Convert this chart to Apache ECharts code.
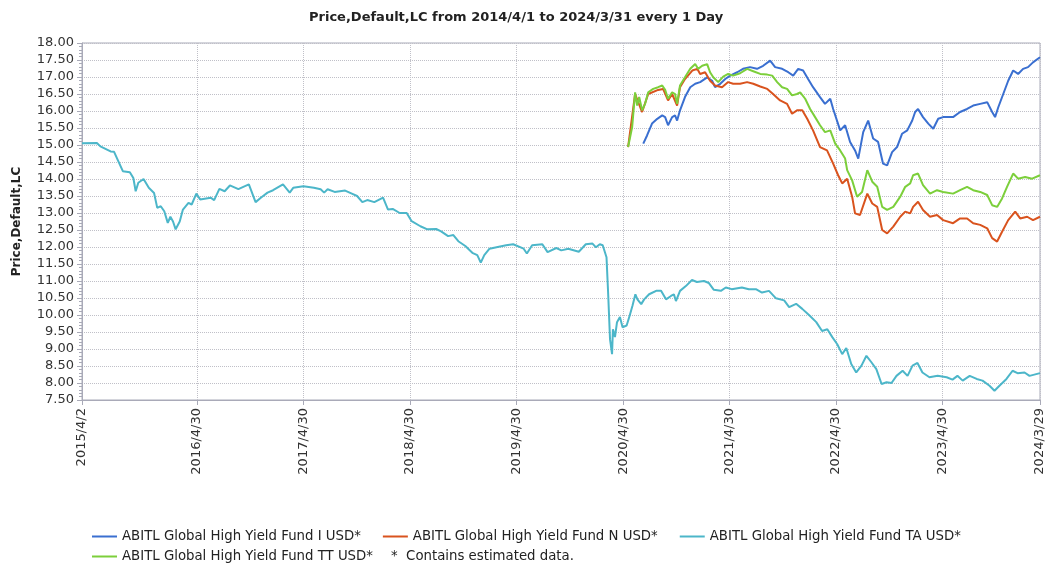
<!DOCTYPE html>
<html><head><meta charset="utf-8">
<script src="https://cdn.jsdelivr.net/npm/echarts@6/dist/echarts.min.js"></script>
<style>html,body{margin:0;padding:0;background:#fff}#c{width:1048px;height:563px}</style>
</head><body><div id="c"></div>
<script>
const titleText = 'Price,Default,LC from 2014/4/1 to 2024/3/31 every 1 Day';
const yAxisName = 'Price,Default,LC';
const startDate = '2015-04-02';
const endDate = '2024-03-29';
const tickLabels = ['2015/4/2','2016/4/30','2017/4/30','2018/4/30','2019/4/30','2020/4/30','2021/4/30','2022/4/30','2023/4/30','2024/3/29'];
const seriesNames = ['ABITL Global High Yield Fund I USD*','ABITL Global High Yield Fund N USD*','ABITL Global High Yield Fund TA USD*','ABITL Global High Yield Fund TT USD*'];
const noteText = '*  Contains estimated data.';

const taDates = ['2015-04-02','2015-04-07','2015-05-23','2015-06-04','2015-07-09','2015-07-21','2015-08-02','2015-08-20','2015-09-13','2015-09-25','2015-10-03','2015-10-12','2015-10-30','2015-11-17','2015-12-05','2015-12-16','2015-12-28','2016-01-09','2016-01-21','2016-01-30','2016-02-08','2016-02-17','2016-03-02','2016-03-13','2016-04-01','2016-04-12','2016-04-28','2016-05-11','2016-06-16','2016-06-28','2016-07-16','2016-08-03','2016-08-21','2016-09-19','2016-10-25','2016-11-17','2016-12-05','2016-12-28','2017-01-16','2017-02-19','2017-03-14','2017-03-26','2017-04-30','2017-06-05','2017-06-28','2017-07-10','2017-07-22','2017-08-15','2017-09-20','2017-10-13','2017-10-31','2017-11-18','2017-12-05','2017-12-29','2018-01-28','2018-02-14','2018-03-02','2018-03-26','2018-04-19','2018-05-06','2018-06-05','2018-06-29','2018-07-29','2018-08-15','2018-09-08','2018-09-26','2018-10-13','2018-11-06','2018-11-30','2018-12-17','2018-12-29','2019-01-10','2019-01-28','2019-02-25','2019-03-26','2019-04-19','2019-05-25','2019-06-05','2019-06-23','2019-07-28','2019-08-15','2019-09-14','2019-10-01','2019-10-25','2019-11-30','2019-12-24','2020-01-16','2020-01-28','2020-02-10','2020-02-20','2020-02-26','2020-03-04','2020-03-10','2020-03-16','2020-03-23','2020-03-26','2020-04-02','2020-04-09','2020-04-19','2020-04-28','2020-05-12','2020-05-22','2020-06-01','2020-06-11','2020-06-18','2020-07-01','2020-07-11','2020-07-28','2020-08-21','2020-09-07','2020-09-24','2020-10-11','2020-10-21','2020-10-28','2020-11-11','2020-12-01','2020-12-22','2021-01-08','2021-02-01','2021-02-18','2021-03-07','2021-03-31','2021-04-17','2021-05-07','2021-06-11','2021-07-05','2021-07-29','2021-08-19','2021-09-12','2021-10-06','2021-11-03','2021-11-20','2021-12-14','2022-01-04','2022-01-28','2022-02-21','2022-03-13','2022-03-31','2022-04-17','2022-05-04','2022-05-21','2022-06-04','2022-06-21','2022-07-08','2022-07-26','2022-08-12','2022-08-29','2022-09-15','2022-10-03','2022-10-20','2022-11-06','2022-11-23','2022-12-14','2022-12-31','2023-01-17','2023-02-03','2023-02-20','2023-03-16','2023-04-13','2023-05-14','2023-06-03','2023-06-20','2023-07-08','2023-08-01','2023-08-25','2023-09-14','2023-10-08','2023-10-25','2023-11-11','2023-12-05','2023-12-26','2024-01-12','2024-02-05','2024-02-22','2024-03-29'];
const taValues = [15.05,15.06,15.06,14.96,14.81,14.80,14.57,14.23,14.20,14.03,13.64,13.89,14.00,13.74,13.59,13.15,13.20,13.05,12.71,12.89,12.75,12.52,12.75,13.10,13.30,13.25,13.57,13.40,13.45,13.38,13.71,13.64,13.81,13.70,13.84,13.32,13.45,13.60,13.67,13.84,13.60,13.74,13.79,13.74,13.70,13.60,13.70,13.62,13.66,13.57,13.50,13.32,13.38,13.32,13.45,13.10,13.12,13.00,13.00,12.76,12.61,12.52,12.53,12.46,12.32,12.35,12.17,12.03,11.83,11.76,11.54,11.76,11.95,12.00,12.05,12.08,11.95,11.81,12.05,12.08,11.85,11.97,11.90,11.95,11.86,12.08,12.10,11.99,12.08,12.05,12.03,11.70,10.56,9.29,8.85,9.58,9.35,9.79,9.94,9.64,9.69,9.97,10.27,10.61,10.46,10.32,10.46,10.61,10.71,10.71,10.46,10.56,10.61,10.41,10.71,10.85,11.03,10.97,11.00,10.94,10.74,10.71,10.81,10.76,10.81,10.76,10.76,10.66,10.71,10.49,10.43,10.23,10.33,10.18,9.99,9.79,9.53,9.58,9.35,9.14,8.85,9.03,8.56,8.31,8.51,8.80,8.61,8.41,7.97,8.02,8.00,8.21,8.36,8.21,8.51,8.59,8.31,8.17,8.21,8.17,8.10,8.21,8.07,8.21,8.12,8.07,7.92,7.77,7.92,8.12,8.36,8.29,8.31,8.21,8.29];

const ttDates = ['2020-05-17','2020-05-31','2020-06-10','2020-06-17','2020-06-24','2020-07-04','2020-07-14','2020-07-25','2020-08-11','2020-08-28','2020-09-11','2020-09-21','2020-10-01','2020-10-15','2020-10-25','2020-11-01','2020-11-11','2020-11-28','2020-12-16','2021-01-02','2021-01-12','2021-01-26','2021-02-12','2021-02-22','2021-03-05','2021-03-22','2021-04-08','2021-04-25','2021-05-12','2021-06-05','2021-06-29','2021-07-20','2021-08-13','2021-09-06','2021-09-23','2021-10-10','2021-10-27','2021-11-13','2021-11-30','2021-12-17','2021-12-28','2022-01-14','2022-01-31','2022-02-17','2022-03-06','2022-03-23','2022-04-10','2022-04-27','2022-05-14','2022-05-31','2022-06-07','2022-06-24','2022-07-11','2022-07-28','2022-08-15','2022-09-01','2022-09-18','2022-10-05','2022-10-22','2022-11-12','2022-12-06','2022-12-23','2023-01-09','2023-01-19','2023-02-05','2023-02-22','2023-03-18','2023-04-11','2023-05-02','2023-06-05','2023-06-29','2023-07-23','2023-08-13','2023-09-06','2023-09-30','2023-10-17','2023-11-03','2023-11-20','2023-12-07','2023-12-28','2024-01-14','2024-02-07','2024-03-02','2024-03-29'];
const ttValues = [14.94,15.53,16.55,16.16,16.41,16.02,16.21,16.55,16.65,16.70,16.75,16.62,16.36,16.55,16.50,16.21,16.75,16.99,17.24,17.38,17.24,17.33,17.38,17.14,16.99,16.85,17.01,17.09,17.04,17.11,17.24,17.17,17.09,17.07,17.04,16.85,16.70,16.65,16.46,16.50,16.55,16.36,16.06,15.82,15.58,15.38,15.43,15.04,14.84,14.60,14.26,13.96,13.48,13.62,14.26,13.92,13.77,13.18,13.09,13.18,13.48,13.77,13.87,14.11,14.16,13.82,13.57,13.67,13.62,13.57,13.67,13.77,13.67,13.62,13.53,13.23,13.18,13.43,13.77,14.16,14.01,14.06,14.01,14.11];

const nDates = ['2020-05-17','2020-06-10','2020-07-04','2020-07-25','2020-08-28','2020-09-14','2020-10-01','2020-10-15','2020-11-01','2020-11-11','2020-11-28','2020-12-23','2021-01-09','2021-01-19','2021-02-05','2021-02-22','2021-03-11','2021-04-04','2021-04-25','2021-05-12','2021-06-05','2021-06-29','2021-07-20','2021-08-13','2021-09-06','2021-09-26','2021-10-20','2021-11-13','2021-11-30','2021-12-17','2022-01-04','2022-01-21','2022-02-10','2022-03-06','2022-03-30','2022-04-20','2022-05-07','2022-05-21','2022-06-07','2022-06-24','2022-07-04','2022-07-21','2022-08-15','2022-09-01','2022-09-18','2022-10-05','2022-10-22','2022-11-12','2022-12-06','2022-12-23','2023-01-09','2023-01-19','2023-02-05','2023-02-22','2023-03-18','2023-04-11','2023-05-02','2023-06-05','2023-06-29','2023-07-23','2023-08-13','2023-09-06','2023-09-30','2023-10-17','2023-11-03','2023-11-20','2023-12-11','2024-01-04','2024-01-21','2024-02-14','2024-03-05','2024-03-29'];
const nValues = [14.94,16.50,15.97,16.50,16.62,16.65,16.31,16.50,16.16,16.70,16.94,17.19,17.24,17.09,17.14,16.89,16.75,16.70,16.85,16.80,16.80,16.85,16.80,16.72,16.65,16.50,16.31,16.21,15.92,16.02,16.02,15.77,15.43,14.94,14.84,14.45,14.11,13.87,14.01,13.48,12.99,12.94,13.57,13.28,13.18,12.50,12.40,12.60,12.89,13.04,12.99,13.18,13.33,13.09,12.89,12.94,12.79,12.70,12.84,12.84,12.70,12.65,12.55,12.26,12.16,12.45,12.79,13.04,12.84,12.89,12.79,12.89];

const iDates = ['2020-07-08','2020-07-21','2020-08-07','2020-08-25','2020-09-11','2020-09-21','2020-10-01','2020-10-15','2020-10-25','2020-11-01','2020-11-11','2020-11-28','2020-12-16','2021-01-02','2021-01-19','2021-02-12','2021-03-01','2021-03-11','2021-03-29','2021-04-15','2021-05-02','2021-05-26','2021-06-15','2021-07-09','2021-08-02','2021-08-23','2021-09-16','2021-10-03','2021-10-27','2021-11-17','2021-12-04','2021-12-21','2022-01-07','2022-01-24','2022-02-10','2022-03-06','2022-03-23','2022-04-10','2022-04-20','2022-05-14','2022-05-31','2022-06-17','2022-07-04','2022-07-15','2022-08-01','2022-08-18','2022-09-04','2022-09-21','2022-10-08','2022-10-22','2022-11-08','2022-11-25','2022-12-12','2022-12-30','2023-01-16','2023-01-26','2023-02-05','2023-02-22','2023-03-12','2023-03-29','2023-04-15','2023-05-02','2023-06-05','2023-06-29','2023-07-23','2023-08-13','2023-09-06','2023-09-30','2023-10-17','2023-10-27','2023-11-07','2023-11-24','2023-12-11','2023-12-28','2024-01-14','2024-01-31','2024-02-17','2024-03-05','2024-03-29'];
const iValues = [15.04,15.28,15.63,15.77,15.87,15.82,15.58,15.82,15.87,15.72,16.02,16.41,16.70,16.80,16.85,16.99,16.89,16.70,16.80,16.94,17.04,17.14,17.24,17.29,17.24,17.33,17.48,17.29,17.24,17.14,17.04,17.24,17.19,16.94,16.70,16.41,16.21,16.36,16.06,15.43,15.58,15.09,14.84,14.60,15.38,15.72,15.19,15.09,14.45,14.40,14.79,14.94,15.33,15.43,15.72,15.97,16.06,15.82,15.63,15.48,15.77,15.82,15.82,15.97,16.06,16.16,16.21,16.26,15.97,15.82,16.11,16.50,16.89,17.19,17.09,17.24,17.29,17.43,17.58];

const colors = ['#3a6fd0','#d9531e','#4cb6c9','#7ccf3b'];
const FONT = 'DejaVu Sans';

function fmt(iso) {
  const p = iso.split('-').map(Number);
  return p[0] + '/' + p[1] + '/' + p[2];
}
// daily category axis
const categories = [];
(function () {
  const s = new Date(startDate + 'T00:00:00Z').getTime();
  const e = new Date(endDate + 'T00:00:00Z').getTime();
  for (let t = s; t <= e; t += 86400000) {
    const d = new Date(t);
    categories.push(d.getUTCFullYear() + '/' + (d.getUTCMonth() + 1) + '/' + d.getUTCDate());
  }
})();
const tickSet = new Set(tickLabels);
const isTick = (idx, val) => tickSet.has(categories[idx]);

function pairs(dates, vals) { return dates.map((d, i) => [fmt(d), vals[i]]); }

const allData = [pairs(iDates, iValues), pairs(nDates, nValues), pairs(taDates, taValues), pairs(ttDates, ttValues)];

const chart = echarts.init(document.getElementById('c'), null, { renderer: 'canvas' });
const axisColor = '#a9aab8';
const gridColor = '#c0c0c8';
const legendText = { fontFamily: FONT, fontSize: 13.3, color: '#222' };
chart.setOption({
  animation: false,
  backgroundColor: '#fff',
  textStyle: { fontFamily: FONT },
  title: {
    text: titleText, left: 309, top: 11, padding: 0,
    textStyle: { fontFamily: FONT, fontSize: 13, fontWeight: 'bold', color: '#222' }
  },
  legend: [
    {
      data: seriesNames.slice(0, 3), left: 92, top: 530, padding: 0, itemGap: 22,
      itemWidth: 25, itemHeight: 2, icon: 'rect', textStyle: legendText
    },
    {
      data: seriesNames.slice(3), left: 92, top: 550, padding: 0, itemGap: 22,
      itemWidth: 25, itemHeight: 2, icon: 'rect', textStyle: legendText
    }
  ],
  graphic: [{
    type: 'text', left: 391, top: 550,
    style: { text: noteText, font: '13.3px "DejaVu Sans"', fill: '#222' }
  }],
  grid: { left: 82, right: 8, top: 43, bottom: 163, show: true, borderColor: axisColor, borderWidth: 1 },
  xAxis: {
    type: 'category', data: categories, boundaryGap: false,
    axisLine: { show: true, lineStyle: { color: axisColor } },
    axisTick: { show: true, interval: isTick, length: 5, lineStyle: { color: axisColor } },
    axisLabel: { interval: isTick, rotate: 90, margin: 8, fontFamily: FONT, fontSize: 13, color: '#333' },
    splitLine: { show: true, interval: isTick, lineStyle: { color: gridColor, type: 'dotted', width: 1 } }
  },
  yAxis: {
    type: 'value', min: 7.5, max: 18, interval: 0.5,
    name: yAxisName, nameLocation: 'middle', nameRotate: 90, nameGap: 59,
    nameTextStyle: { fontFamily: FONT, fontSize: 12, fontWeight: 'bold', color: '#222' },
    axisLine: { show: true, lineStyle: { color: axisColor } },
    axisTick: { show: true, length: 5, lineStyle: { color: axisColor } },
    minorTick: { show: true, splitNumber: 5, length: 3, lineStyle: { color: axisColor } },
    axisLabel: { formatter: v => v.toFixed(2), fontFamily: FONT, fontSize: 13, color: '#333', margin: 8 },
    splitLine: { show: true, lineStyle: { color: gridColor, type: 'dotted', width: 1 } }
  },
  series: seriesNames.map((n, i) => ({
    name: n, type: 'line', data: allData[i], showSymbol: false, symbol: 'none',
    color: colors[i], lineStyle: { width: 2, color: colors[i] }, z: 2 + i
  }))
});
</script></body></html>
